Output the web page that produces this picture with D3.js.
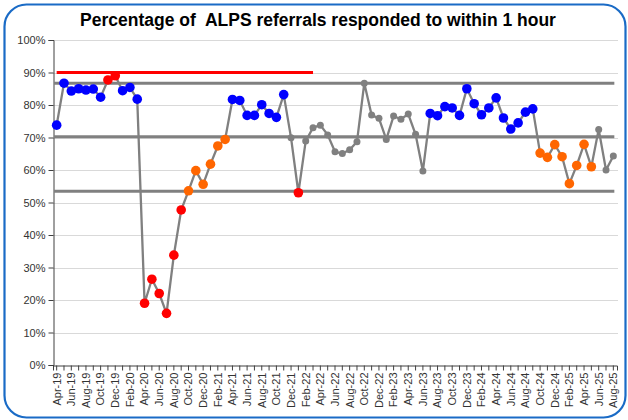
<!DOCTYPE html>
<html>
<head>
<meta charset="utf-8">
<script src="https://cdn.jsdelivr.net/npm/d3@7"></script>
<style>
  body { margin: 0; background: #fff; font-family: Arial, "Liberation Sans", sans-serif; }
  svg text { font-family: Arial, "Liberation Sans", sans-serif; }
</style>
</head>
<body>
<div id="chart"></div>
<script>

var months = ['Apr-19','May-19','Jun-19','Jul-19','Aug-19','Sep-19','Oct-19','Nov-19','Dec-19',
  'Jan-20','Feb-20','Mar-20','Apr-20','May-20','Jun-20','Jul-20','Aug-20','Sep-20','Oct-20','Nov-20','Dec-20',
  'Jan-21','Feb-21','Mar-21','Apr-21','May-21','Jun-21','Jul-21','Aug-21','Sep-21','Oct-21','Nov-21','Dec-21',
  'Jan-22','Feb-22','Mar-22','Apr-22','May-22','Jun-22','Jul-22','Aug-22','Sep-22','Oct-22','Nov-22','Dec-22',
  'Jan-23','Feb-23','Mar-23','Apr-23','May-23','Jun-23','Jul-23','Aug-23','Sep-23','Oct-23','Nov-23','Dec-23',
  'Jan-24','Feb-24','Mar-24','Apr-24','May-24','Jun-24','Jul-24','Aug-24','Sep-24','Oct-24','Nov-24','Dec-24',
  'Jan-25','Feb-25','Mar-25','Apr-25','May-25','Jun-25','Jul-25','Aug-25'];

// % responded within 1 hour
var values = [73.8, 86.7, 84.3, 85.0, 84.6, 84.9, 82.4, 87.7, 89.0,
  84.4, 85.4, 81.8, 19.0, 26.4, 22.0, 15.9, 33.8, 47.7, 53.6, 59.8, 55.6,
  61.8, 67.4, 69.4, 81.7, 81.4, 76.8, 76.8, 80.1, 77.4, 76.2, 83.2, 69.9,
  53.0, 68.9, 73.0, 73.8, 70.8, 65.6, 65.1, 66.2, 68.7, 86.7, 76.9, 75.9,
  69.4, 76.6, 75.6, 77.2, 71.0, 59.7, 77.4, 76.7, 79.5, 79.1, 76.8, 85.0,
  80.4, 77.0, 79.1, 82.2, 76.0, 72.6, 74.5, 77.8, 78.8, 65.2, 63.9, 67.8,
  64.1, 55.8, 61.4, 67.9, 61.0, 72.5, 60.0, 64.3];

// SPC flag per point: s = special cause, h = run above mean, l = run below mean, n = none
var flags = ['h','h','h','h','h','h','h','s','s',
  'h','h','h','s','s','s','s','s','s','l','l','l',
  'l','l','l','h','h','h','h','h','h','h','h','n',
  's','n','n','n','n','n','n','n','n','n','n','n',
  'n','n','n','n','n','n','h','h','h','h','h','h',
  'h','h','h','h','h','h','h','h','h','l','l','l',
  'l','l','l','l','l','n','n','n'];

var meanValue = 70.2;
var upperLimit = 86.7;
var lowerLimit = 53.5;
var targetValue = 90;
var targetMonths = months.slice(0, 36);

var yTicks = [0, 10, 20, 30, 40, 50, 60, 70, 80, 90, 100];
var flagColour = { s: '#ff0000', h: '#0000ff', l: '#ff6600', n: '#808080' };

var width = 628, height = 420;
var margin = { top: 40, right: 11, bottom: 55, left: 53 };

var svg = d3.select('#chart').append('svg')
  .attr('width', width)
  .attr('height', height);

svg.append('rect')
  .attr('x', 4.5).attr('y', 4.5)
  .attr('width', 621).attr('height', 413)
  .attr('rx', 22).attr('ry', 22)
  .attr('fill', '#fff')
  .attr('stroke', '#1a6bc6')
  .attr('stroke-width', 2.2);

svg.append('text')
  .attr('x', 318).attr('y', 26)
  .attr('text-anchor', 'middle')
  .style('font-size', '17.5px')
  .style('font-weight', 'bold')
  .style('white-space', 'pre')
  .attr('fill', '#000')
  .text('Percentage of  ALPS referrals responded to within 1 hour');

var x = d3.scaleBand()
  .domain(months)
  .range([margin.left, width - margin.right]);

var y = d3.scaleLinear()
  .domain([0, 100])
  .range([height - margin.bottom, margin.top]);

var cx = function(m) { return x(m) + x.bandwidth() / 2; };

// gridlines
svg.append('g').selectAll('line')
  .data(yTicks.slice(1))
  .enter().append('line')
  .attr('x1', margin.left).attr('x2', width - margin.right + 1)
  .attr('y1', function(d) { return Math.round(y(d)) + 0.5; })
  .attr('y2', function(d) { return Math.round(y(d)) + 0.5; })
  .attr('stroke', '#d9d9d9')
  .attr('stroke-width', 1.2);

// y axis
var yAxis = svg.append('g')
  .attr('transform', 'translate(' + (margin.left + 0.5) + ',0)')
  .call(d3.axisLeft(y).tickValues(yTicks).tickSize(5).tickPadding(3)
    .tickFormat(function(d) { return d + '%'; }));
yAxis.select('.domain').attr('stroke', '#404040');
yAxis.selectAll('.tick line').attr('stroke', '#404040');
yAxis.selectAll('text').style('font-size', '11px').attr('fill', '#333');

// x axis
var xAxis = svg.append('g')
  .attr('transform', 'translate(0,' + (Math.round(y(0)) + 0.5) + ')')
  .call(d3.axisBottom(x).tickSizeOuter(0).tickSize(5)
    .tickFormat(function(d, i) { return i % 2 === 0 ? d : ''; }));
xAxis.select('.domain').attr('stroke', '#404040');
xAxis.selectAll('.tick line').attr('stroke', '#404040');
xAxis.selectAll('text')
  .style('font-size', '11px')
  .attr('fill', '#333')
  .attr('text-anchor', 'end')
  .attr('transform', 'rotate(-90)')
  .attr('x', -7)
  .attr('y', 0)
  .attr('dy', '0.35em');

// process limits and mean
var limits = [upperLimit, meanValue, lowerLimit];
svg.append('g').selectAll('line')
  .data(limits)
  .enter().append('line')
  .attr('x1', margin.left + 1)
  .attr('x2', cx(months[months.length - 1]) + 1)
  .attr('y1', function(d) { return y(d); })
  .attr('y2', function(d) { return y(d); })
  .attr('stroke', '#808080')
  .attr('stroke-width', 3);

// target
svg.append('path')
  .datum(targetMonths)
  .attr('fill', 'none')
  .attr('stroke', '#ff0000')
  .attr('stroke-width', 3)
  .attr('d', d3.line()
    .x(function(d) { return cx(d); })
    .y(function() { return y(targetValue); }));

// data line
svg.append('path')
  .datum(values)
  .attr('fill', 'none')
  .attr('stroke', '#808080')
  .attr('stroke-width', 2.3)
  .attr('d', d3.line()
    .x(function(d, i) { return cx(months[i]); })
    .y(function(d) { return y(d); }));

// points
svg.append('g').selectAll('circle')
  .data(values)
  .enter().append('circle')
  .attr('cx', function(d, i) { return cx(months[i]); })
  .attr('cy', function(d) { return y(d); })
  .attr('r', function(d, i) { return flags[i] === 'n' ? 3.5 : 4.8; })
  .attr('fill', function(d, i) { return flagColour[flags[i]]; });

</script>
</body>
</html>
